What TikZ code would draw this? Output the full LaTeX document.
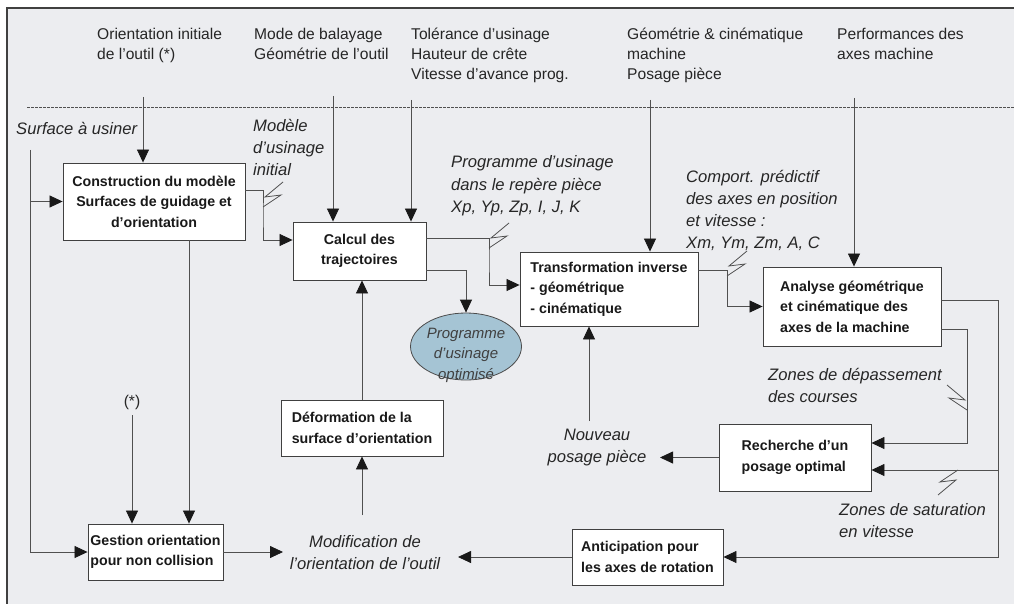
\documentclass[tikz,border=0pt]{standalone}
\usepackage{fontspec}
\setmainfont{Liberation Sans}
\usepackage{xcolor}
\usetikzlibrary{arrows.meta,shapes.geometric,calc}
\definecolor{fond}{RGB}{236,237,240}
\definecolor{trait}{RGB}{80,80,80}
\definecolor{bleu}{RGB}{165,196,212}
\newcommand{\fbloc}{\fontsize{14.2}{20.5}\selectfont\bfseries}
\newcommand{\fentree}{\fontsize{15.6}{20}\selectfont}
\newcommand{\fflux}{\fontsize{16.6}{22}\selectfont\itshape}

\begin{document}
\begin{tikzpicture}[x=1pt,y=-1pt,
	bloc/.style={draw=black!75,fill=white,line width=0.9pt,inner sep=0pt,font=\fbloc,text=black!90},
	entree/.style={anchor=base west,align=left,inner sep=0pt,font=\fentree,text=black!85},
	flux/.style={anchor=base west,align=left,inner sep=0pt,font=\fflux,text=black!85},
	fleche/.style={draw=trait,line width=0.8pt,-{Triangle[length=13pt,width=12pt,color=black!90]}},
	ligne/.style={draw=trait,line width=0.8pt},
	eclair/.pic={\draw[ligne] (0,0) -- (18,-12) -- (2,-10) -- (20,-25);}]

\useasboundingbox (0,0) rectangle (1014,604);
\fill[fond] (7,8) rectangle (1014,604);
\draw[black!75,line width=1.2pt] (7,604) -- (7,8) -- (1014,8);
\draw[trait,line width=0.6pt,dash pattern=on 2.5pt off 1.5pt] (27,107) -- (1014,107);

% donnees d'entree (base = derniere ligne)
\node[entree] (eOrient) at (97,59.5) {Orientation initiale\\de l’outil (*)};
\node[entree] (eMode) at (254,59.5) {Mode de balayage\\Géométrie de l’outil};
\node[entree] (eTol) at (411,79.5) {Tolérance d’usinage\\Hauteur de crête\\Vitesse d’avance prog.};
\node[entree] (eGeo) at (627,79.5) {Géométrie \& cinématique\\machine\\Posage pièce};
\node[entree] (ePerf) at (837,59.5) {Performances des\\axes machine};
\node[entree,anchor=base] (eEtoile) at (132,406) {(*)};

% blocs
\node[bloc,minimum width=182pt,minimum height=77pt,align=center] (constr) at (154,201.5)
	{Construction du modèle\\Surfaces de guidage et\\d’orientation};
\node[bloc,minimum width=133pt,minimum height=58pt,align=center] (calcul) at (359.5,251)
	{Calcul des\\trajectoires};
\node[bloc,minimum width=178pt,minimum height=74pt,align=left] (transf) at (609,289)
	{Transformation inverse\\- géométrique\\- cinématique};
\node[bloc,minimum width=178pt,minimum height=79pt,align=left] (analyse) at (852,306.5)
	{Analyse géométrique\\et cinématique des\\axes de la machine};
\node[bloc,minimum width=152pt,minimum height=67pt,align=left] (recherche) at (795,457.5)
	{Recherche d’un\\posage optimal};
\node[bloc,minimum width=151pt,minimum height=56pt,align=left] (anticip) at (647.5,557)
	{Anticipation pour\\les axes de rotation};
\node[bloc,minimum width=162pt,minimum height=56pt,align=left] (deform) at (362,428)
	{Déformation de la\\surface d’orientation};
\node[bloc,minimum width=135pt,minimum height=56pt,align=left] (gestion) at (155.5,552)
	{Gestion orientation\\pour non collision};

\node[ellipse,draw=black!70,fill=bleu,line width=0.8pt,minimum width=111pt,minimum height=67pt,inner sep=0pt] (prog) at (466,346.5) {};
\node[align=center,inner sep=0pt,text=black!75,font=\fontsize{15}{20.5}\selectfont\itshape] (progtxt) at (466,355)
	{Programme\\d’usinage\\optimisé};

% flux
\node[flux] (fSurface) at (16,135) {Surface à usiner};
\node[flux] (fModele) at (253,176) {Modèle\\d’usinage\\initial};
\node[flux] (fProg) at (451,212) {Programme d’usinage\\dans le repère pièce\\Xp, Yp, Zp, I, J, K};
\node[flux] (fComport) at (686,248) {Comport. prédictif\\des axes en position\\et vitesse :\\Xm, Ym, Zm, A, C};
\node[flux] (fDepass) at (768,402) {Zones de dépassement\\des courses};
\node[flux] (fSatur) at (839,537) {Zones de saturation\\en vitesse};
\node[flux,anchor=base,align=center] (fNouveau) at (597,462) {Nouveau\\posage pièce};
\node[flux,anchor=base,align=center] (fModif) at (365,569) {Modification de\\l’orientation de l’outil};

\coordinate (s0) at (30,150);
\coordinate (i1) at (143,97);
\coordinate (i2) at (333,96);
\coordinate (i3) at (411,100);
\coordinate (i4) at (650,100);
\coordinate (i5) at (854,98);
\coordinate (e1) at (132,415);
\coordinate (k1) at (263,215);
\coordinate (k2) at (489,260);
\coordinate (k3) at (727,290);
\coordinate (k4) at (967,400);
\coordinate (k5) at (998,420);
\coordinate (m1) at (362,515);
\coordinate (m2) at (458,557);
\coordinate (m3) at (283,552);
\coordinate (n1) at (589,421);
\coordinate (n2) at (660,457.5);

\draw[fleche] (s0) |- (gestion.west);
\draw[fleche] (s0 |- constr.west) -- (constr.west);
\draw[fleche] (i1) -- (i1 |- constr.north);
\draw[fleche] (i2) -- (i2 |- calcul.north);
\draw[fleche] (i3) -- (i3 |- calcul.north);
\draw[fleche] (i4) -- (i4 |- transf.north);
\draw[fleche] (i5) -- (i5 |- analyse.north);
\draw[fleche] (e1) -- (e1 |- gestion.north);

\draw[fleche] ([yshift=11pt]constr.east) -| (k1) |- ([yshift=11pt]calcul.west);
\draw[fleche] ([xshift=35pt]constr.south) -- ([xshift=35pt]constr.south |- gestion.north);
\draw[fleche] (gestion.east) -- (m3);
\draw[fleche] (m1) -- (deform.south);
\draw[fleche] (deform.north) -- (deform.north |- calcul.south);
\draw[fleche] ([yshift=13pt]calcul.east) -| (k2) |- ([yshift=4pt]transf.west);
\draw[fleche] ([yshift=-19pt]calcul.east) -| (prog.north);
\draw[fleche] ([yshift=19pt]transf.east) -| (k3) |- (analyse.west);
\draw[fleche] (n1) -- (n1 |- transf.south);
\draw[fleche] (recherche.west) -- (n2);
\draw[fleche] ([yshift=-22.5pt]analyse.east) -| (k4) |- ([yshift=14.5pt]recherche.east);
\draw[fleche] ([yshift=6.5pt]analyse.east) -| (k5) |- (anticip.east);
\draw[fleche] ([yshift=-12.5pt]recherche.east -| k5) -- ([yshift=-12.5pt]recherche.east);
\draw[fleche] (anticip.west) -- (m2);

% eclairs
\pic at (263,207) {eclair};
\pic at (489,248) {eclair};
\pic at (727,276) {eclair};
\pic[xscale=-1] at (967,410) {eclair};
\pic[rotate=180] at (958,470) {eclair};

\end{tikzpicture}
\end{document}
